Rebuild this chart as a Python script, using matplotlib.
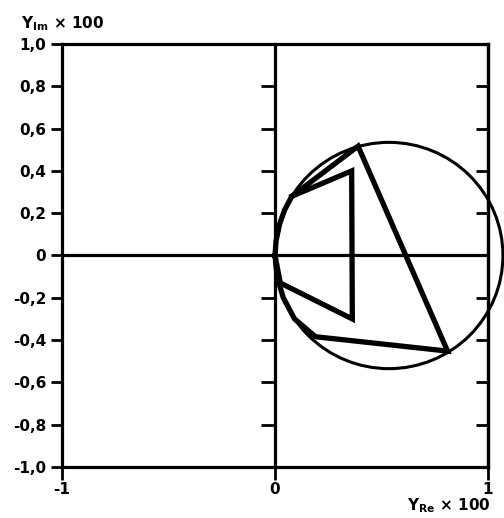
import matplotlib
matplotlib.use("Agg")
import matplotlib.pyplot as plt
from matplotlib.patches import Circle

plt.rcParams['font.family'] = ['DejaVu Sans']
plt.rcParams['font.weight'] = 'bold'
plt.rcParams['mathtext.fontset'] = 'dejavusans'

# ---- data ----
y_ticks = [-1.0, -0.8, -0.6, -0.4, -0.2, 0.0, 0.2, 0.4, 0.6, 0.8, 1.0]
y_tick_labels = ["-1,0", "-0,8", "-0,6", "-0,4", "-0,2", "0", "0,2", "0,4", "0,6", "0,8", "1,0"]
x_ticks = [-1, 0, 1]
x_tick_labels = ["-1", "0", "1"]

circle_center = (0.535, 0.0)
circle_radius = 0.535

outer_re = [0.0, 0.005, 0.022, 0.045, 0.079, 0.39, 0.81, 0.19, 0.162, 0.092, 0.039, 0.0095, 0.0]
outer_im = [0.0, 0.07, 0.15, 0.215, 0.28, 0.517, -0.452, -0.384, -0.36, -0.30, -0.20, -0.10, 0.0]

inner_re = [0.079, 0.36, 0.363, 0.025, 0.0]
inner_im = [0.28, 0.40, -0.30, -0.13, 0.0]

# ---- figure ----
fig = plt.figure(figsize=(5.04, 5.18), dpi=100)
ax = fig.add_axes([62/504, 1-467/518, (488-62)/504, (467-44)/518])
ax.set_xlim(-1, 1)
ax.set_ylim(-1, 1)

lw_axis = 2.3
for sp in ax.spines.values():
    sp.set_linewidth(lw_axis)

fs = 11
ax.set_yticks(y_ticks)
ax.set_yticklabels(y_tick_labels, fontsize=fs, fontweight='bold')
ax.set_xticks(x_ticks)
ax.set_xticklabels(x_tick_labels, fontsize=fs, fontweight='bold')
ax.tick_params(axis='y', direction='out', length=8, width=2.0, pad=3.5)
ax.tick_params(axis='x', direction='out', length=9, width=2.0, pad=2)

# vertical axis line at x=0 with ticks pointing left
sec = ax.secondary_yaxis(0.5)
sec.set_alignment('left')
sec.set_yticks(y_ticks)
sec.set_yticklabels([])
sec.tick_params(direction='out', length=10, width=2.0)
sec.spines['left'].set_linewidth(lw_axis)

# right side ticks pointing inside
secr = ax.secondary_yaxis('right')
secr.set_yticks(y_ticks)
secr.set_yticklabels([])
secr.tick_params(direction='in', length=9, width=2.0)
secr.spines['right'].set_linewidth(lw_axis)

ax.axhline(0, color='black', lw=lw_axis)

circ = Circle(circle_center, circle_radius, fill=False, ec='black', lw=2.2, clip_on=False)
ax.add_patch(circ)

ax.plot(outer_re, outer_im, color='black', lw=3.8, solid_joinstyle='miter', clip_on=False)
ax.plot(inner_re, inner_im, color='black', lw=3.8, solid_joinstyle='miter', clip_on=False)

fig.text(21/504, 1-28/518, r"$\mathbf{Y}_{\mathbf{Im}}$ × 100", fontsize=fs, fontweight='bold',
         ha='left', va='baseline')
fig.text(491/504, 1-510/518, r"$\mathbf{Y}_{\mathbf{Re}}$ × 100", fontsize=fs, fontweight='bold',
         ha='right', va='baseline')

fig.savefig("out.png", dpi=100)
